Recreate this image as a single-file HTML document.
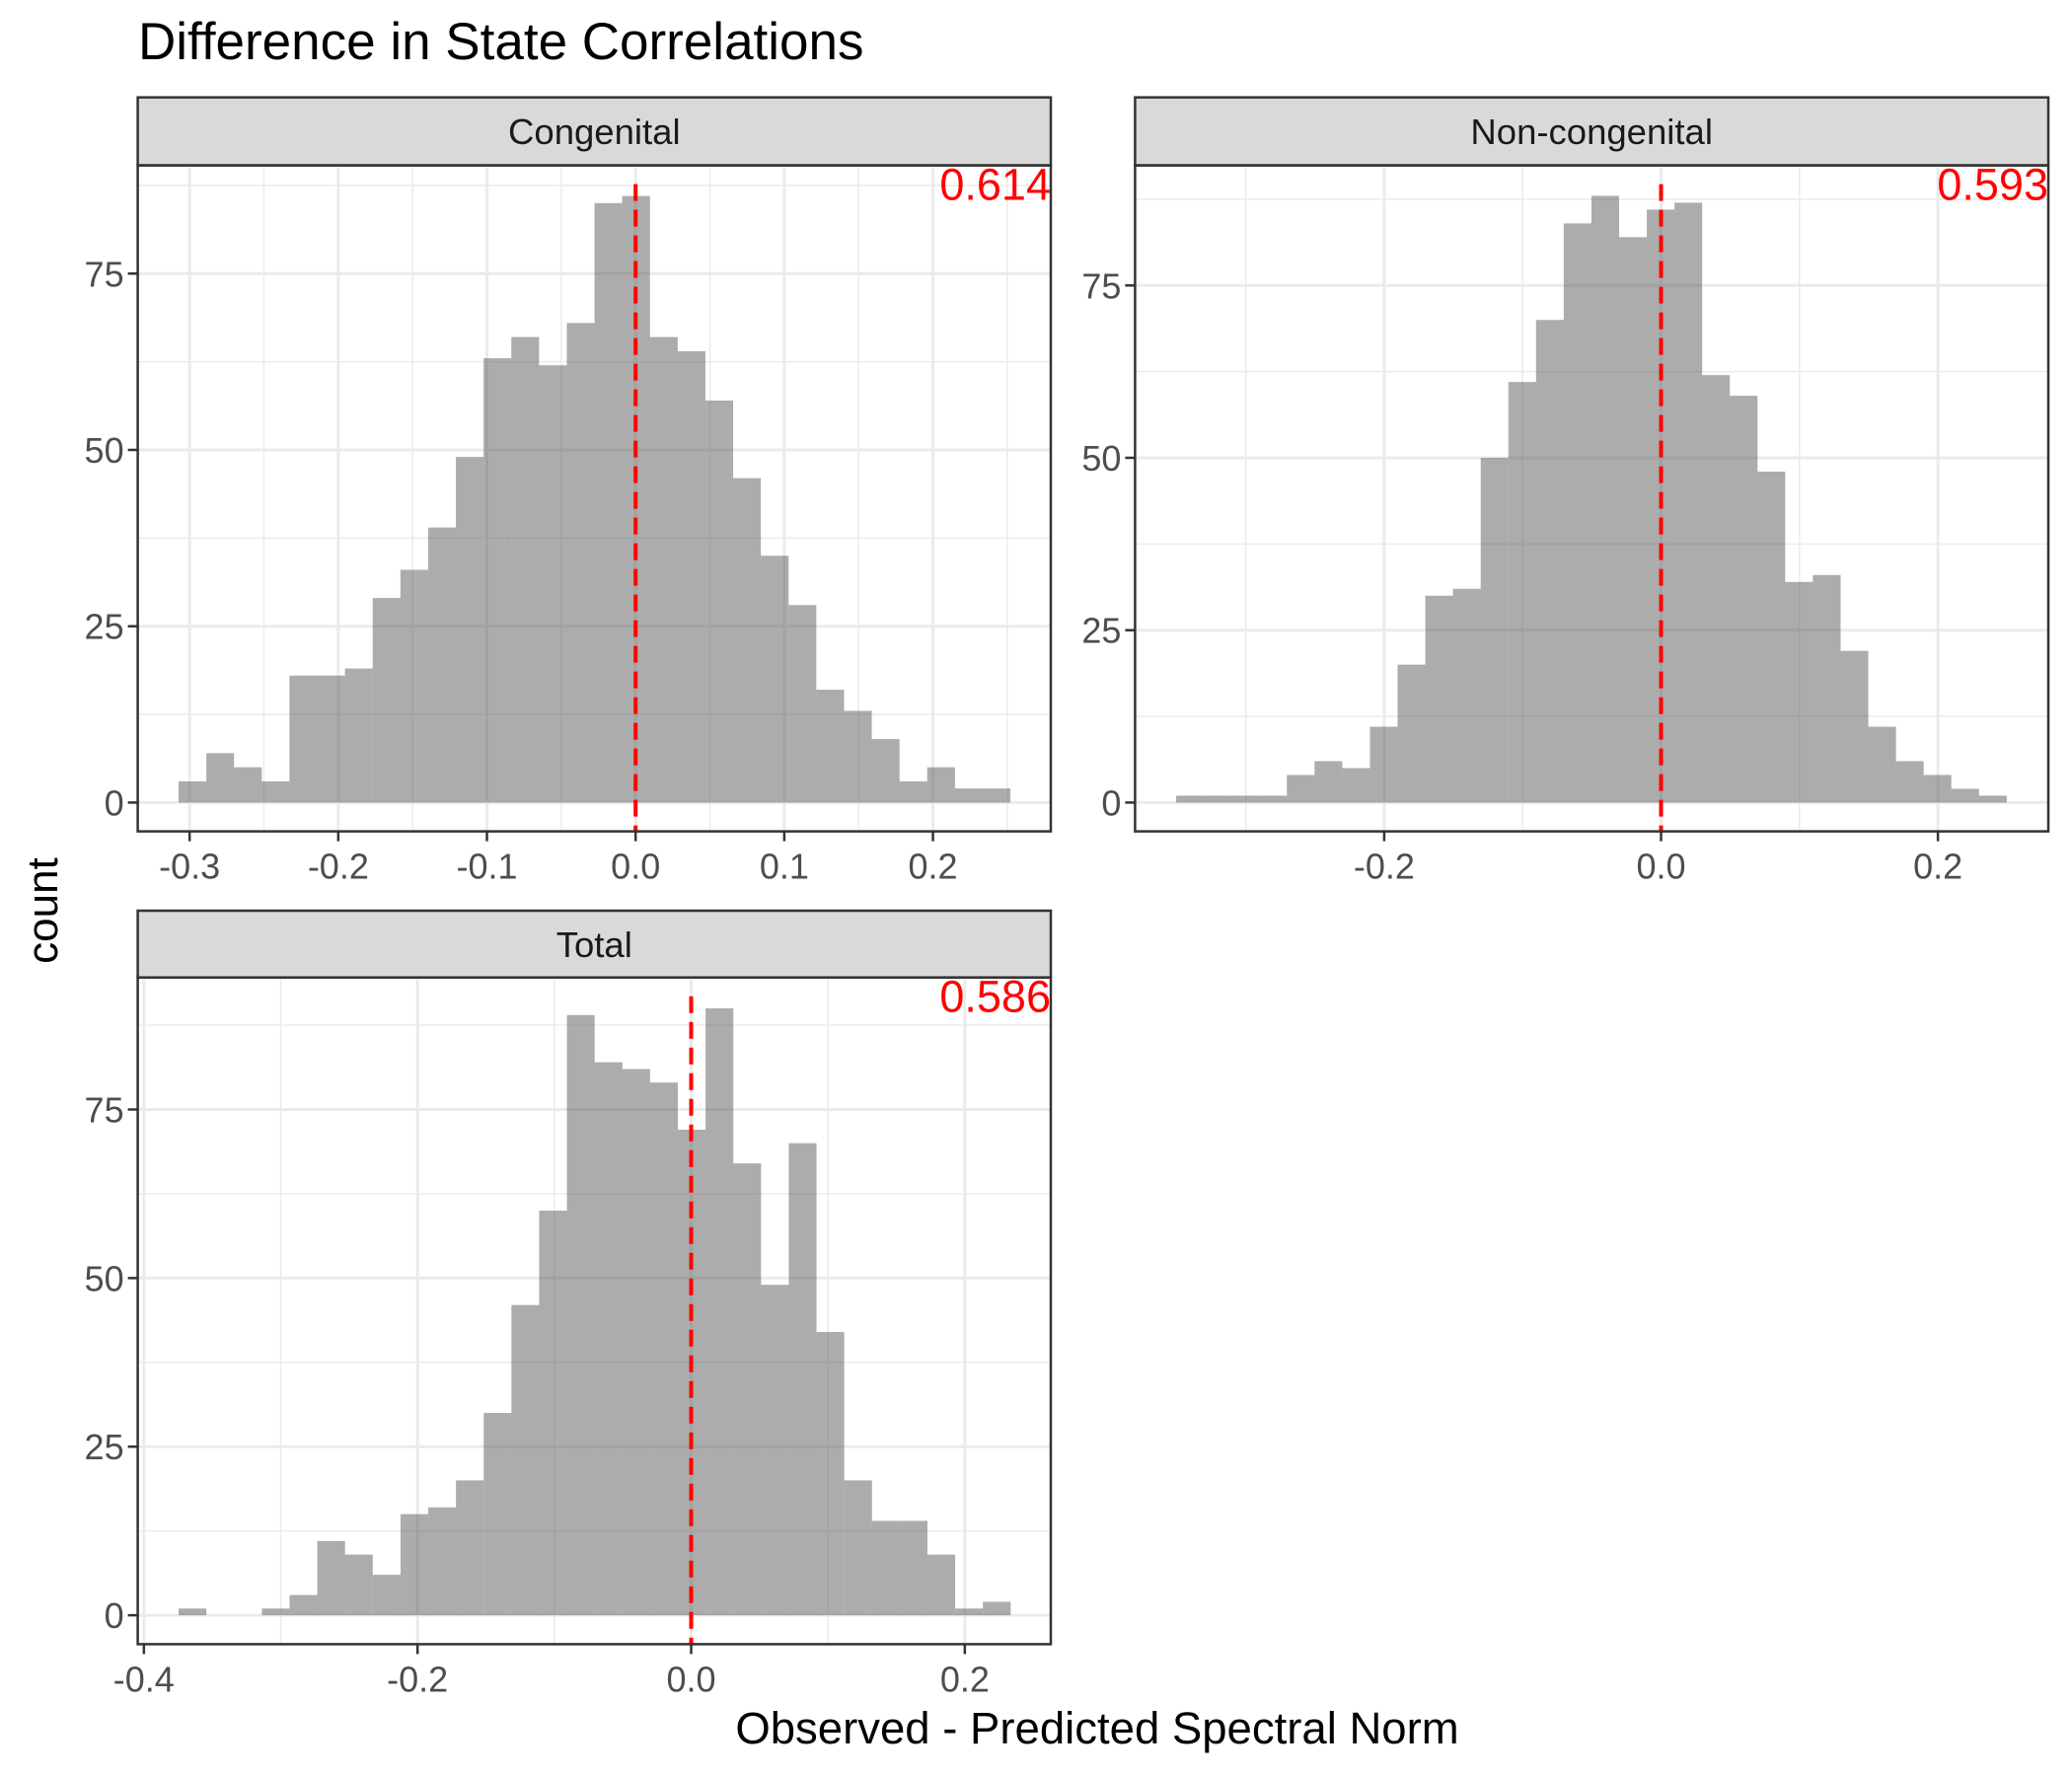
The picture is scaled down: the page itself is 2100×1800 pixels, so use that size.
<!DOCTYPE html>
<html><head><meta charset="utf-8"><style>
html,body{margin:0;padding:0;background:#fff;}
svg{display:block;font-family:"Liberation Sans",Arial,sans-serif;}
</style></head><body>
<svg id="chart" width="2100" height="1800" viewBox="0 0 2100 1800" xmlns="http://www.w3.org/2000/svg">
<rect width="2100" height="1800" fill="#fff"/>
<text x="140" y="60" font-size="53" fill="#000">Difference in State Correlations</text>
<text x="0" y="0" font-size="44" fill="#000" text-anchor="middle" transform="translate(58,923) rotate(-90)">count</text>
<text x="1112" y="1767" font-size="45.5" fill="#000" text-anchor="middle">Observed - Predicted Spectral Norm</text>
<g id="panels"></g>
</svg>
<script>
// Data
const congenitalCounts = [3,7,5,3,18,18,19,29,33,39,49,63,66,62,68,85,86,66,64,57,46,35,28,16,13,9,3,5,2,2];
const congenitalBinStart = -0.3074;
const congenitalBinWidth = 0.01865;
const congenitalXTicks = [-0.3,-0.2,-0.1,0.0,0.1,0.2];
const congenitalXMinor = [-0.25,-0.15,-0.05,0.05,0.15,0.25];
const congenitalLabel = "0.614";

const nonCongenitalCounts = [1,1,1,1,4,6,5,11,20,30,31,50,61,70,84,88,82,86,87,62,59,48,32,33,22,11,6,4,2,1];
const nonCongenitalBinStart = -0.3503;
const nonCongenitalBinWidth = 0.02;
const nonCongenitalXTicks = [-0.2,0.0,0.2];
const nonCongenitalXMinor = [-0.3,-0.1,0.1];
const nonCongenitalLabel = "0.593";

const totalCounts = [1,0,0,1,3,11,9,6,15,16,20,30,46,60,89,82,81,79,72,90,67,49,70,42,20,14,14,9,1,2];
const totalBinStart = -0.3746;
const totalBinWidth = 0.02027;
const totalXTicks = [-0.4,-0.2,0.0,0.2];
const totalXMinor = [-0.3,-0.1,0.1];
const totalLabel = "0.586";

const yTicks = [0,25,50,75];
const yMinor = [12.5,37.5,62.5,87.5];
const vlineX = 0;

const NS = "http://www.w3.org/2000/svg";
const root = document.getElementById('panels');
function mk(tag, attrs, parent){
  const e = document.createElementNS(NS, tag);
  for (const k in attrs) e.setAttribute(k, attrs[k]);
  (parent||root).appendChild(e);
  return e;
}
function fmt(v){ return v.toFixed(1).replace('-0.0','0.0'); }

function panel(cfg){
  const g = mk('g', {});
  
  
  const xs = v => cfg.x0 + v * cfg.xu;
  const ys = v => cfg.y0 - v * cfg.yu;
  const st = mk('rect', {x:cfg.left, y:cfg.stripTop, width:cfg.right-cfg.left, height:cfg.top-cfg.stripTop, fill:'#d9d9d9', stroke:'#333', 'stroke-width':2.5}, g);
  
  
  const stt = mk('text', {x:(cfg.left+cfg.right)/2, y:(cfg.stripTop+cfg.top)/2+13, 'font-size':36.5, fill:'#1a1a1a', 'text-anchor':'middle'}, g);
  stt.textContent = cfg.title;
  
  
  const clipTop = cfg.top, clipBot = cfg.bottom;
  cfg.xMinor.forEach(v => { const x = xs(v); if (x>cfg.left && x<cfg.right){ const l=mk('line',{x1:x,x2:x,y1:clipTop,y2:clipBot,stroke:'#ebebeb','stroke-width':1.5},g);   }});
  yMinor.forEach(v => { const y = ys(v); if (y>clipTop && y<clipBot){ const l=mk('line',{x1:cfg.left,x2:cfg.right,y1:y,y2:y,stroke:'#ebebeb','stroke-width':1.5},g);   }});
  cfg.xTicks.forEach(v => { const x = xs(v); const l=mk('line',{x1:x,x2:x,y1:clipTop,y2:clipBot,stroke:'#ebebeb','stroke-width':3},g);   });
  yTicks.forEach(v => { const y = ys(v); const l=mk('line',{x1:cfg.left,x2:cfg.right,y1:y,y2:y,stroke:'#ebebeb','stroke-width':3},g);   });
  cfg.counts.forEach((c,i) => {
    if (c <= 0) return;
    const xa = xs(cfg.binStart + i*cfg.binWidth), xb = xs(cfg.binStart + (i+1)*cfg.binWidth);
    const b = mk('rect',{x:xa, y:ys(c), width:xb-xa, height:ys(0)-ys(c), fill:'#5a5a5a', 'fill-opacity':0.5}, g);
    
    
  });
  const vx = xs(vlineX);
  const vl = mk('line',{x1:vx,x2:vx,y1:cfg.top+19,y2:cfg.bottom,stroke:'#ff0000','stroke-width':4,'stroke-dasharray':'17 9'},g);
  
  
  const an = mk('text',{x:cfg.right, y:cfg.top+35, 'font-size':45, fill:'#ff0000', 'text-anchor':'end'}, g);
  an.textContent = cfg.label;
  
  
  const bd = mk('rect',{x:cfg.left, y:cfg.top, width:cfg.right-cfg.left, height:cfg.bottom-cfg.top, fill:'none', stroke:'#333', 'stroke-width':2.5}, g);
  
  
  yTicks.forEach(v => {
    const y = ys(v);
    const t = mk('line',{x1:cfg.left-10,x2:cfg.left,y1:y,y2:y,stroke:'#333','stroke-width':2.5},g);
    
    
    const tl = mk('text',{x:cfg.left-14, y:y+13, 'font-size':36, fill:'#4d4d4d', 'text-anchor':'end'}, g);
    tl.textContent = String(v);
    
    
  });
  cfg.xTicks.forEach(v => {
    const x = xs(v);
    const t = mk('line',{x1:x,x2:x,y1:cfg.bottom,y2:cfg.bottom+10,stroke:'#333','stroke-width':2.5},g);
    
    
    const tl = mk('text',{x:x, y:cfg.bottom+48, 'font-size':36, fill:'#4d4d4d', 'text-anchor':'middle'}, g);
    tl.textContent = fmt(v);
    
    
  });
}

panel({name:'congenital', title:'Congenital', counts:congenitalCounts, binStart:congenitalBinStart, binWidth:congenitalBinWidth,
  xTicks:congenitalXTicks, xMinor:congenitalXMinor, label:congenitalLabel,
  left:139.6, right:1065, stripTop:98.7, top:167.6, bottom:842.6, x0:644.2, xu:1506.8, y0:813.4, yu:7.148});
panel({name:'non-congenital', title:'Non-congenital', counts:nonCongenitalCounts, binStart:nonCongenitalBinStart, binWidth:nonCongenitalBinWidth,
  xTicks:nonCongenitalXTicks, xMinor:nonCongenitalXMinor, label:nonCongenitalLabel,
  left:1150.4, right:2076, stripTop:98.7, top:167.6, bottom:842.6, x0:1683.5, xu:1403, y0:813.4, yu:6.988});
panel({name:'total', title:'Total', counts:totalCounts, binStart:totalBinStart, binWidth:totalBinWidth,
  xTicks:totalXTicks, xMinor:totalXMinor, label:totalLabel,
  left:139.6, right:1065, stripTop:923, top:990.7, bottom:1666.4, x0:700.5, xu:1386.7, y0:1637.1, yu:6.835});
</script>
</body></html>
